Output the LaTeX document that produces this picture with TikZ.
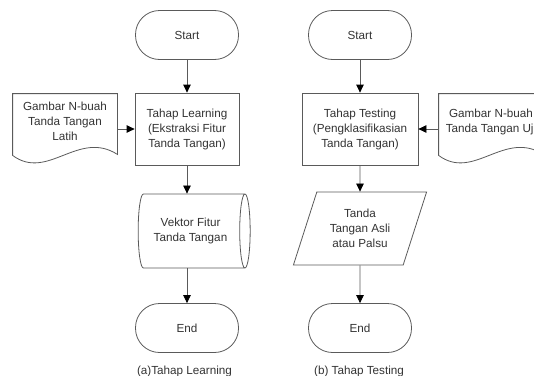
\documentclass[tikz,border=0pt]{standalone}
\usepackage{fontspec}
\setmainfont{Liberation Sans}
\usetikzlibrary{arrows.meta, positioning, calc, shapes.geometric}
\definecolor{lineGray}{HTML}{5A5A5A}
\definecolor{textGray}{HTML}{333333}

\begin{document}
\begin{tikzpicture}[
            >={Triangle[length=8pt, width=7.5pt, color=black]},
            x=1pt, y=-1pt,
            base/.style ={draw=lineGray, line width=0.8pt, text=textGray, align=center,
                    font=\fontsize{11.7}{15}\selectfont, inner sep=2pt},
            term/.style ={base, rounded corners=24pt, minimum width=103pt, minimum height=49pt},
            proc/.style ={base, minimum width=104pt, minimum height=72pt},
            % document symbol: node carries the text only, outline drawn below
            docu/.style ={base, draw=none, minimum width=104pt, minimum height=55pt},
            wave/.style ={draw=lineGray, line width=0.8pt},
            store/.style={base, cylinder, shape aspect=0.35, minimum width=74pt, minimum height=112pt},
            io/.style   ={base, trapezium, trapezium left angle=67.7, trapezium right angle=112.3,
                    trapezium stretches=true, minimum width=134pt, minimum height=73pt},
            capt/.style ={text=textGray, font=\fontsize{11.7}{15}\selectfont, anchor=base, inner sep=0pt},
            arr/.style  ={->, draw=lineGray, line width=0.8pt}
        ]
        \useasboundingbox (0,0) rectangle (534,375);
        \clip (0,0) rectangle (534,375);

        % (a) learning
        \node[term]  (startA) at (187,35)    {Start};
        \node[proc]  (learn)  at (187,129)   {Tahap Learning\\(Ekstraksi Fitur\\Tanda Tangan)};
        \node[docu]  (gbrA)   at (65,121.5)  {Gambar N-buah\\Tanda Tangan\\Latih};
        \node[store] (vektor) at (190.5,231) {Vektor Fitur\\Tanda Tangan};
        \node[term]  (endA)   at (187,328)   {End};
        \node[capt]  (captA)  at (184.5,374) {(a)Tahap Learning};

        % (b) testing
        \node[term]  (startB) at (360,35)    {Start};
        \node[proc, minimum width=116pt] (test) at (360,129) {Tahap Testing\\(Pengklasifikasian\\Tanda Tangan)};
        \node[docu]  (gbrB)   at (491,121.5) {Gambar N-buah\\Tanda Tangan Uji};
        \node[io]    (hasil)  at (360,228.5) {Tanda\\Tangan Asli\\atau Palsu};
        \node[term]  (endB)   at (360,328)   {End};
        \node[capt]  (captB)  at (359,374)   {(b) Tahap Testing};

        % wavy bottom edge (y grows downward here)
        \foreach \d in {gbrA, gbrB}{
            \draw[wave] (\d.south west) -- (\d.north west) -- (\d.north east) -- ($(\d.south east)+(0,5)$)
                .. controls ($(\d.south east)+(-39,-20)$) and ($(\d.south west)+(35,32)$) .. ($(\d.south west)+(0,6)$) -- cycle;
        }

        \draw[arr] (startA) -- (learn);
        \draw[arr] (gbrA.east |- learn.west) -- (learn.west);
        \draw[arr] (learn.south) -- (learn.south |- vektor.north);
        \draw[arr] (learn.south |- vektor.south) -- (endA.north);

        \draw[arr] (startB) -- (test);
        \draw[arr] (gbrB.west |- test.east) -- (test.east);
        \draw[arr] (test) -- (hasil);
        \draw[arr] (hasil) -- (endB);

    \end{tikzpicture}
\end{document}
